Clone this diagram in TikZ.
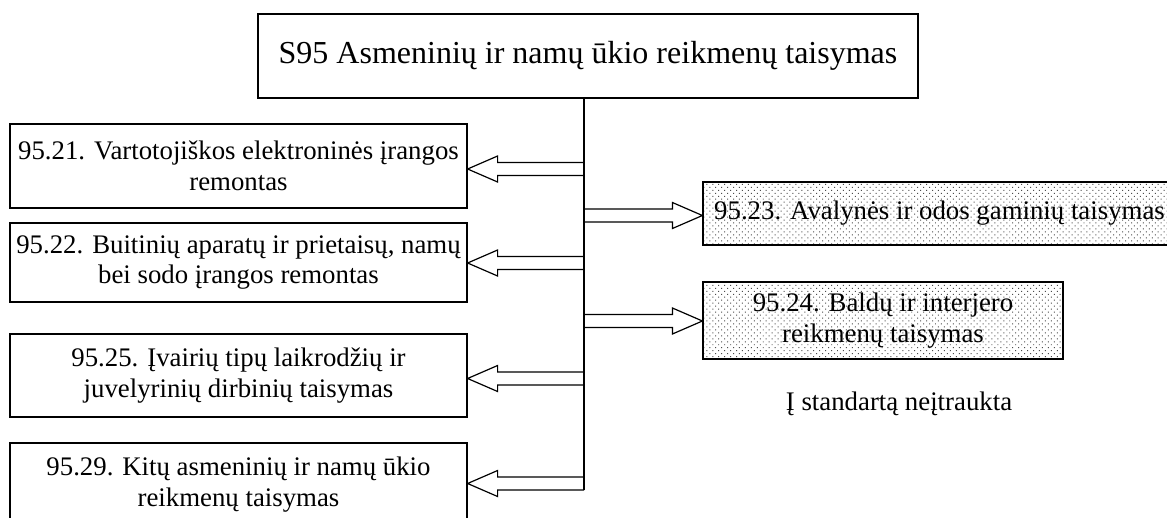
\documentclass[tikz,border=0pt]{standalone}
\usepackage{fontspec}
\setmainfont{Liberation Serif}
\usetikzlibrary{calc,patterns.meta}
\tikzset{
  box/.style={draw=black, line width=1.2pt, fill=white, inner sep=0pt, align=center,
    font=\fontsize{26.8}{30.5}\selectfont},
  dotbox/.style={box, pattern={Dots[distance=4.2pt, radius=0.7pt, angle=45]}, pattern color=black!70},
  titlebox/.style={box, font=\fontsize{32}{36}\selectfont},
  trunk/.style={line width=2pt},
  blockarrow/.style={draw=black, line width=1.2pt, fill=white, line join=miter},
  note/.style={inner sep=0pt, font=\fontsize{26.8}{30.5}\selectfont}
}
\begin{document}
\begin{tikzpicture}[x=1pt,y=-1pt]
\useasboundingbox (0,0) rectangle (1167,517);
\clip (0,0) rectangle (1167,517);
\fill[white] (0,0) rectangle (1167,517);

% boxes
\node[titlebox, minimum width=660pt, minimum height=84pt] (top) at (588,56)
  {S95 Asmeninių ir namų ūkio reikmenų taisymas};
\node[box, minimum width=457pt, minimum height=84pt] (b21) at (238.5,166)
  {95.21. Vartotojiškos elektroninės įrangos\\remontas};
\node[box, minimum width=457pt, minimum height=79pt] (b22) at (238.5,262.5)
  {95.22. Buitinių aparatų ir prietaisų, namų\\bei sodo įrangos remontas};
\node[box, minimum width=457pt, minimum height=83pt] (b25) at (238.5,375.5)
  {95.25. Įvairių tipų laikrodžių ir\\juvelyrinių dirbinių taisymas};
\node[box, minimum width=457pt, minimum height=83pt] (b29) at (238.5,484.5)
  {95.29. Kitų asmeninių ir namų ūkio\\reikmenų taisymas};
\node[dotbox, minimum width=473pt, minimum height=63pt] (b23) at (939.5,213.5)
  {95.23. Avalynės ir odos gaminių taisymas};
\node[dotbox, minimum width=360pt, minimum height=77pt] (b24) at (883,320.5)
  {95.24. Baldų ir interjero\\reikmenų taisymas};
\node[note, anchor=base] (nt) at (899,410) {Į standartą neįtraukta};

% trunk
\coordinate (vtop) at (584,98);
\coordinate (vbot) at (584,490);

% junctions
\coordinate (j21) at (584,169);
\coordinate (j22) at (584,263);
\coordinate (j25) at (584,378.5);
\coordinate (j29) at (584,483.5);
\coordinate (j23) at (584,215.5);
\coordinate (j24) at (584,321);

% left arrows
\foreach \j/\b in {j21/b21, j22/b22, j25/b25, j29/b29}{
  \draw[blockarrow] let \p1=(\j), \p2=(\b.east) in
    (\x1,\y1+6.5pt) -- (\x2+30pt,\y1+6.5pt) -- (\x2+30pt,\y1+13pt) -- (\x2,\y1)
    -- (\x2+30pt,\y1-13pt) -- (\x2+30pt,\y1-6.5pt) -- (\x1,\y1-6.5pt);
}
% right arrows
\foreach \j/\b in {j23/b23, j24/b24}{
  \draw[blockarrow] let \p1=(\j), \p2=(\b.west) in
    (\x1,\y1+6.5pt) -- (\x2-30pt,\y1+6.5pt) -- (\x2-30pt,\y1+13pt) -- (\x2,\y1)
    -- (\x2-30pt,\y1-13pt) -- (\x2-30pt,\y1-6.5pt) -- (\x1,\y1-6.5pt);
}
\draw[trunk] (vtop) -- (vbot);
\end{tikzpicture}
\end{document}
